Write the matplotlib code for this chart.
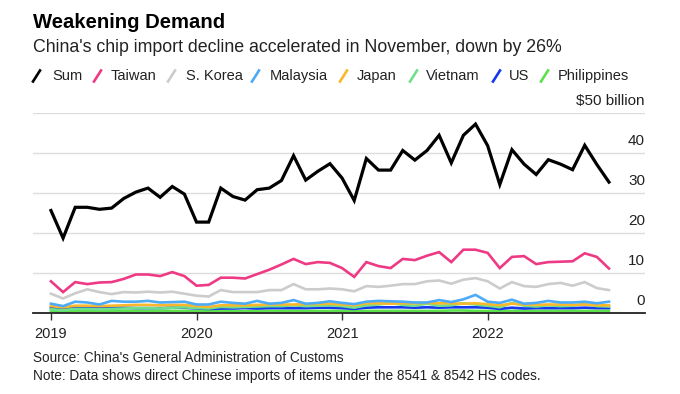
import matplotlib
matplotlib.use("Agg")
import matplotlib.pyplot as plt
from matplotlib.lines import Line2D

plt.rcParams['font.family'] = ['Liberation Sans', 'DejaVu Sans']

# monthly values, Jan 2019 .. Nov 2022 ($ billion)
sum_total = [25.7, 18.8, 26.5, 26.5, 26.0, 26.3, 28.7, 30.3, 31.3, 29.0, 31.7, 29.8,
             22.8, 22.8, 31.3, 29.2, 28.3, 30.9, 31.3, 33.2, 39.4, 33.3, 35.5, 37.4,
             33.8, 28.2, 38.7, 35.8, 35.8, 40.7, 38.3, 40.7, 44.5, 37.6, 44.5, 47.3,
             41.9, 32.2, 40.9, 37.3, 34.7, 38.4, 37.3, 35.9, 42.0, 37.2, 32.8]
taiwan = [8.0, 5.3, 7.8, 7.3, 7.7, 7.8, 8.6, 9.7, 9.7, 9.3, 10.3, 9.3,
          6.9, 7.1, 8.9, 8.9, 8.7, 9.8, 10.9, 12.2, 13.6, 12.3, 12.8, 12.6,
          11.3, 9.1, 12.8, 11.8, 11.3, 13.6, 13.3, 14.4, 15.3, 12.8, 15.9, 15.9,
          15.1, 11.3, 14.1, 14.3, 12.3, 12.8, 12.9, 13.0, 15.0, 14.1, 11.2]
s_korea = [4.9, 3.7, 5.0, 6.0, 5.3, 4.8, 5.3, 5.2, 5.4, 5.2, 5.4, 4.9,
           4.4, 4.2, 5.8, 5.3, 5.3, 5.3, 5.8, 5.8, 7.3, 6.0, 6.0, 6.2,
           6.0, 5.5, 6.8, 6.6, 6.9, 7.3, 7.3, 8.0, 8.2, 7.4, 8.4, 8.8,
           8.0, 6.2, 7.8, 6.8, 6.6, 7.3, 7.6, 6.9, 7.8, 6.3, 5.8]
malaysia = [2.4, 1.8, 2.9, 2.7, 2.2, 3.1, 2.9, 2.9, 3.1, 2.7, 2.8, 2.9,
            2.2, 2.2, 2.9, 2.6, 2.4, 3.1, 2.4, 2.6, 3.3, 2.4, 2.6, 3.0,
            2.6, 2.3, 2.9, 3.1, 3.0, 2.9, 2.7, 2.7, 3.3, 2.8, 3.5, 4.6,
            2.9, 2.6, 3.4, 2.4, 2.6, 3.1, 2.7, 2.7, 2.9, 2.5, 2.9]
japan = [1.8, 1.5, 1.9, 1.9, 1.8, 1.9, 2.0, 2.1, 2.1, 2.0, 2.1, 2.1,
         1.8, 1.6, 2.0, 2.0, 2.0, 2.1, 2.2, 2.2, 2.2, 2.3, 2.3, 2.4,
         2.2, 2.0, 2.5, 2.5, 2.4, 2.5, 2.5, 2.6, 2.5, 2.5, 2.4, 2.5,
         2.3, 2.0, 2.4, 2.2, 2.1, 2.2, 2.2, 2.1, 2.2, 2.0, 2.0]
vietnam = [1.0, 0.8, 1.1, 1.1, 1.0, 1.1, 1.2, 1.3, 1.3, 1.2, 1.4, 1.5,
           1.3, 1.2, 1.6, 1.5, 1.6, 1.7, 1.8, 1.8, 2.0, 1.8, 1.9, 2.0,
           1.8, 1.4, 2.0, 2.2, 2.6, 2.1, 1.9, 2.4, 1.9, 2.0, 2.5, 2.2,
           1.9, 1.5, 2.6, 1.9, 1.7, 2.0, 1.8, 1.9, 2.3, 1.8, 1.7]
us = [1.4, 1.2, 1.4, 1.4, 1.4, 1.4, 1.4, 1.3, 1.3, 1.3, 1.4, 1.4,
      1.2, 1.1, 1.2, 1.2, 1.3, 1.2, 1.3, 1.3, 1.3, 1.3, 1.4, 1.4,
      1.3, 1.1, 1.4, 1.5, 1.5, 1.5, 1.4, 1.5, 1.4, 1.5, 1.5, 1.5,
      1.4, 1.1, 1.4, 1.2, 1.3, 1.3, 1.3, 1.3, 1.4, 1.3, 1.3]
philippines = [0.6, 0.5, 0.6, 0.6, 0.6, 0.6, 0.6, 0.6, 0.6, 0.6, 0.6, 0.6,
               0.5, 0.5, 0.6, 0.5, 0.5, 0.6, 0.6, 0.6, 0.6, 0.6, 0.6, 0.6,
               0.6, 0.5, 0.6, 0.6, 0.6, 0.6, 0.6, 0.6, 0.6, 0.7, 0.7, 0.6,
               0.6, 0.5, 0.6, 0.6, 0.6, 0.6, 0.6, 0.6, 0.6, 0.6, 0.6]

names = ["Sum", "Taiwan", "S. Korea", "Malaysia", "Japan", "Vietnam", "US", "Philippines"]
series = [sum_total, taiwan, s_korea, malaysia, japan, vietnam, us, philippines]
colors = ["#000000", "#ee3a84", "#cccccc", "#4daaf5", "#fbb72c", "#6ee08c", "#1437ef", "#5ce04c"]
year_labels = ["2019", "2020", "2021", "2022"]
y_ticks = [0, 10, 20, 30, 40, 50]
y_labels = ["0", "10", "20", "30", "40", "$50 billion"]

W, H = 680, 394


def px(x):
    return x / W


def py(y):
    return 1 - y / H


fig = plt.figure(figsize=(W / 100, H / 100), dpi=100)
ax = fig.add_axes([px(33), py(313.3), 612 / W, 200 / H])

months = list(range(len(sum_total)))
# draw small ones first so Sum sits on top
for name, vals, c in reversed(list(zip(names, series, colors))):
    lw = 2.3 if name == "Sum" else 1.9
    ax.plot(months, vals, color=c, lw=lw, solid_joinstyle='miter', zorder=3)

ax.set_xlim(-1.48, 48.97)
ax.set_ylim(0, 50)

for v in y_ticks[1:]:
    ax.axhline(v, color="#dddddd", lw=1, zorder=1)
for v, lab in zip(y_ticks, y_labels):
    ax.annotate(lab, (1.0, v), xycoords=ax.get_yaxis_transform(),
                xytext=(0, 9), textcoords='offset points',
                ha='right', va='center', fontsize=11, color="#222222")

ax.set_yticks([])
ax.set_xticks([0, 12, 24, 36])
ax.set_xticklabels(year_labels, fontsize=10.5, color="#222222")
ax.tick_params(axis='x', length=5, width=1, color="#333333", pad=5)
for s in ["top", "right", "left"]:
    ax.spines[s].set_visible(False)
ax.spines["bottom"].set_color("#222222")
ax.spines["bottom"].set_linewidth(1.3)
ax.spines["bottom"].set_zorder(4)

fig.text(px(33), py(22), "Weakening Demand", fontsize=14.6, fontweight='bold',
         ha='left', va='center')
fig.text(px(33), py(48), "China's chip import decline accelerated in November, down by 26%",
         fontsize=12.8, ha='left', va='center', color="#222222")

# legend row
leg_y = 76
marker_x = [33, 94, 168, 252, 340, 410, 493, 541]
text_x = [52, 111, 186, 270, 357, 426, 509, 558]
for name, c, mx, tx in zip(names, colors, marker_x, text_x):
    fig.add_artist(Line2D([px(mx), px(mx + 7)], [py(leg_y + 5.5), py(leg_y - 5.5)],
                          color=c, lw=1.9, transform=fig.transFigure))
    fig.text(px(tx), py(leg_y), name, fontsize=10.5, ha='left', va='center', color="#222222")

fig.text(px(33), py(358), "Source: China's General Administration of Customs",
         fontsize=9.8, ha='left', va='center', color="#222222")
fig.text(px(33), py(376), "Note: Data shows direct Chinese imports of items under the 8541 & 8542 HS codes.",
         fontsize=9.8, ha='left', va='center', color="#222222")

fig.savefig("out.png", dpi=100)
